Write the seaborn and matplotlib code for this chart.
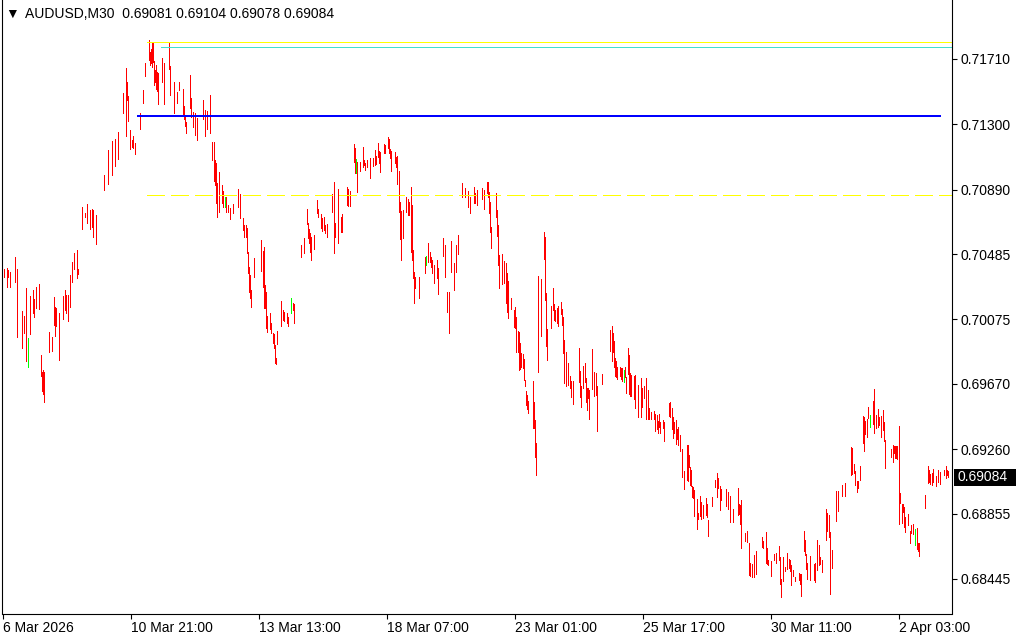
import matplotlib
matplotlib.use("Agg")
import matplotlib.pyplot as plt
import matplotlib.transforms as mtransforms
from matplotlib.patches import Rectangle
import pandas as pd
import seaborn as sns

# ---------------- data ----------------
symbol_title = "AUDUSD,M30"
title_ohlc = ["0.69081", "0.69104", "0.69078", "0.69084"]
last_close = 0.69084

bar_pos = [
    4, 7, 8, 10, 15, 17, 22, 24, 26, 28,
    30, 33, 34, 36, 39, 41, 42, 43, 44, 49,
    52, 54, 55, 56, 59, 63, 65, 66, 68, 70,
    72, 74, 77, 78, 82, 85, 87, 90, 92, 93,
    96, 104, 108, 112, 115, 118, 123, 126, 127, 128,
    130, 132, 133, 135, 140, 143, 145, 149, 150, 151,
    152, 153, 154, 155, 156, 157, 158, 162, 164, 169,
    170, 174, 177, 179, 183, 184, 185, 186, 190, 191,
    193, 195, 197, 203, 205, 207, 210, 212, 214, 215,
    216, 217, 219, 222, 223, 225, 226, 228, 230, 233,
    238, 240, 243, 244, 246, 247, 248, 249, 250, 251,
    254, 261, 263, 264, 265, 266, 267, 270, 271, 273,
    274, 275, 276, 277, 281, 283, 284, 287, 288, 291,
    293, 294, 301, 304, 307, 308, 309, 310, 311, 314,
    317, 318, 321, 322, 324, 325, 327, 332, 334, 335,
    338, 341, 342, 347, 348, 350, 354, 355, 356, 357,
    360, 363, 364, 365, 367, 370, 373, 375, 376, 378,
    379, 380, 384, 385, 388, 389, 390, 391, 395, 396,
    397, 399, 400, 401, 403, 406, 408, 409, 411, 412,
    413, 414, 415, 419, 425, 426, 428, 430, 431, 432,
    434, 437, 438, 443, 445, 447, 449, 451, 454, 456,
    458, 462, 465, 468, 470, 474, 475, 477, 482, 484,
    487, 488, 489, 490, 491, 496, 497, 498, 499, 502,
    504, 506, 507, 508, 511, 514, 515, 516, 518, 519,
    520, 521, 523, 524, 525, 526, 527, 528, 533, 534,
    535, 536, 538, 541, 544, 545, 546, 547, 551, 553,
    554, 555, 557, 558, 561, 562, 563, 564, 566, 568,
    570, 571, 573, 579, 580, 581, 583, 585, 586, 587,
    588, 589, 592, 594, 596, 597, 602, 610, 612, 613,
    614, 615, 616, 617, 620, 621, 622, 624, 625, 626,
    628, 629, 630, 631, 634, 635, 638, 641, 642, 644,
    646, 648, 649, 651, 654, 655, 657, 658, 659, 660,
    663, 664, 669, 670, 672, 673, 674, 676, 677, 678,
    680, 682, 684, 687, 688, 689, 690, 691, 692, 693,
    694, 697, 698, 700, 701, 703, 706, 707, 708, 712,
    715, 717, 718, 720, 721, 726, 728, 730, 733, 738,
    739, 740, 741, 745, 747, 749, 750, 752, 754, 756,
    762, 763, 766, 767, 768, 771, 774, 776, 779, 780,
    781, 783, 785, 787, 789, 790, 791, 793, 795, 799,
    800, 801, 804, 805, 806, 807, 810, 814, 815, 817,
    819, 820, 822, 826, 827, 829, 830, 832, 836, 838,
    842, 845, 851, 852, 854, 855, 857, 858, 860, 863,
    864, 865, 867, 868, 870, 873, 874, 876, 878, 879,
    881, 883, 884, 885, 891, 893, 894, 895, 896, 897,
    899, 900, 902, 903, 904, 905, 908, 910, 911, 913,
    915, 917, 918, 919, 925, 928, 929, 930, 932, 933,
    936, 938, 940, 944, 946, 947, 948,
]

bar_high = [
    0.70391, 0.70398, 0.70385, 0.70372, 0.70467, 0.70391, 0.70127, 0.70096, 0.70272, 0.69958,
    0.70222, 0.70259, 0.70203, 0.70278, 0.70297, 0.69851, 0.69744, 0.69757, 0.69744, 0.69996,
    0.69964, 0.70215, 0.70153, 0.70146, 0.70115, 0.70222, 0.70259, 0.70228, 0.70228, 0.70354,
    0.70435, 0.70492, 0.70511, 0.70391, 0.70781, 0.70743, 0.70799, 0.70762, 0.70768, 0.70762,
    0.70730, 0.70982, 0.71139, 0.71195, 0.71208, 0.71252, 0.71497, 0.71654, 0.71566, 0.71478,
    0.71264, 0.71201, 0.71226, 0.71183, 0.71371, 0.71515, 0.71685, 0.71829, 0.71754, 0.71773,
    0.71811, 0.71811, 0.71697, 0.71641, 0.71672, 0.71628, 0.71622, 0.71716, 0.71685, 0.71811,
    0.71666, 0.71566, 0.71503, 0.71566, 0.71522, 0.71415, 0.71358, 0.71314, 0.71610, 0.71465,
    0.71377, 0.71371, 0.71340, 0.71453, 0.71390, 0.71383, 0.71484, 0.71189, 0.71189, 0.71076,
    0.71057, 0.70931, 0.71000, 0.70919, 0.70881, 0.70843, 0.70843, 0.70793, 0.70774, 0.70799,
    0.70894, 0.70862, 0.70712, 0.70668, 0.70668, 0.70649, 0.70498, 0.70404, 0.70354, 0.70259,
    0.70460, 0.70573, 0.70504, 0.70529, 0.70291, 0.70247, 0.70096, 0.70115, 0.70052, 0.69989,
    0.69983, 0.69914, 0.69832, 0.70002, 0.70190, 0.70134, 0.70121, 0.70115, 0.70090, 0.70209,
    0.70178, 0.70171, 0.70542, 0.70586, 0.70768, 0.70680, 0.70642, 0.70617, 0.70592, 0.70605,
    0.70824, 0.70768, 0.70737, 0.70712, 0.70718, 0.70668, 0.70674, 0.70862, 0.70937, 0.70680,
    0.70894, 0.70718, 0.70737, 0.70906, 0.70894, 0.70881, 0.71176, 0.71151, 0.71082, 0.71063,
    0.71063, 0.71157, 0.71076, 0.71057, 0.71076, 0.71088, 0.71088, 0.71139, 0.71101, 0.71183,
    0.71132, 0.71126, 0.71176, 0.71170, 0.71220, 0.71208, 0.71145, 0.71132, 0.71126, 0.71095,
    0.71101, 0.71007, 0.70812, 0.70755, 0.70762, 0.70843, 0.70831, 0.70812, 0.70906, 0.70793,
    0.70511, 0.70372, 0.70341, 0.70341, 0.70467, 0.70473, 0.70554, 0.70498, 0.70467, 0.70448,
    0.70416, 0.70448, 0.70398, 0.70586, 0.70542, 0.70247, 0.70247, 0.70567, 0.70429, 0.70542,
    0.70605, 0.70931, 0.70900, 0.70881, 0.70843, 0.70906, 0.70868, 0.70887, 0.70900, 0.70887,
    0.70937, 0.70937, 0.70875, 0.70812, 0.70655, 0.70868, 0.70762, 0.70668, 0.70479, 0.70485,
    0.70441, 0.70429, 0.70366, 0.70316, 0.70209, 0.70134, 0.70153, 0.70090, 0.70002, 0.69996,
    0.69927, 0.69864, 0.69857, 0.69826, 0.69694, 0.69625, 0.69600, 0.69562, 0.69688, 0.69556,
    0.69443, 0.69299, 0.70347, 0.70328, 0.70624, 0.70592, 0.70241, 0.70014, 0.70159, 0.70272,
    0.70171, 0.70134, 0.70146, 0.70159, 0.70184, 0.70140, 0.70090, 0.69945, 0.69870, 0.69801,
    0.69719, 0.69688, 0.69688, 0.69895, 0.69751, 0.69656, 0.69782, 0.69801, 0.69707, 0.69644,
    0.69644, 0.69631, 0.69889, 0.69744, 0.69738, 0.69656, 0.69732, 0.70008, 0.70033, 0.69989,
    0.69939, 0.69832, 0.69813, 0.69776, 0.69776, 0.69770, 0.69770, 0.69757, 0.69776, 0.69713,
    0.69895, 0.69851, 0.69738, 0.69726, 0.69719, 0.69726, 0.69663, 0.69707, 0.69644, 0.69656,
    0.69707, 0.69631, 0.69518, 0.69493, 0.69499, 0.69481, 0.69474, 0.69437, 0.69481, 0.69430,
    0.69443, 0.69430, 0.69550, 0.69556, 0.69518, 0.69462, 0.69430, 0.69443, 0.69386, 0.69399,
    0.69349, 0.69261, 0.69123, 0.69286, 0.69286, 0.69223, 0.69148, 0.69129, 0.69028, 0.69022,
    0.69003, 0.68947, 0.68859, 0.68966, 0.68928, 0.68909, 0.68953, 0.68915, 0.68815, 0.68959,
    0.69066, 0.69110, 0.69079, 0.69028, 0.69010, 0.69010, 0.68991, 0.68966, 0.68884, 0.69016,
    0.68915, 0.68909, 0.68941, 0.68733, 0.68746, 0.68671, 0.68545, 0.68539, 0.68595, 0.68620,
    0.68708, 0.68683, 0.68740, 0.68639, 0.68564, 0.68557, 0.68601, 0.68608, 0.68652, 0.68583,
    0.68444, 0.68583, 0.68520, 0.68608, 0.68570, 0.68564, 0.68532, 0.68501, 0.68457, 0.68482,
    0.68476, 0.68476, 0.68746, 0.68689, 0.68601, 0.68545, 0.68589, 0.68539, 0.68545, 0.68689,
    0.68658, 0.68583, 0.68564, 0.68884, 0.68859, 0.68846, 0.68740, 0.68627, 0.68997, 0.68997,
    0.69035, 0.69047, 0.69273, 0.69267, 0.69167, 0.69123, 0.69060, 0.69060, 0.69154, 0.69468,
    0.69462, 0.69437, 0.69449, 0.69525, 0.69474, 0.69562, 0.69638, 0.69474, 0.69512, 0.69462,
    0.69468, 0.69506, 0.69430, 0.69317, 0.69261, 0.69286, 0.69280, 0.69280, 0.69280, 0.69280,
    0.69405, 0.68984, 0.68915, 0.68915, 0.68897, 0.68834, 0.68853, 0.68746, 0.68784, 0.68790,
    0.68758, 0.68765, 0.68671, 0.68671, 0.68972, 0.69154, 0.69129, 0.69104, 0.69110, 0.69135,
    0.69091, 0.69129, 0.69116, 0.69129, 0.69154, 0.69129, 0.69123,
]

bar_low = [
    0.70341, 0.70278, 0.70341, 0.70278, 0.70310, 0.69964, 0.69895, 0.69989, 0.69813, 0.69776,
    0.69983, 0.70115, 0.70090, 0.70146, 0.70140, 0.69719, 0.69625, 0.69606, 0.69556, 0.69870,
    0.69876, 0.70040, 0.69970, 0.70033, 0.69820, 0.70077, 0.70134, 0.70115, 0.70065, 0.70153,
    0.70310, 0.70391, 0.70335, 0.70360, 0.70642, 0.70718, 0.70680, 0.70642, 0.70655, 0.70592,
    0.70548, 0.70887, 0.70925, 0.70982, 0.71038, 0.71082, 0.71371, 0.71226, 0.71453, 0.71321,
    0.71145, 0.71157, 0.71151, 0.71113, 0.71270, 0.71434, 0.71603, 0.71704, 0.71672, 0.71685,
    0.71660, 0.71691, 0.71547, 0.71566, 0.71522, 0.71509, 0.71427, 0.71566, 0.71427, 0.71647,
    0.71484, 0.71371, 0.71434, 0.71515, 0.71365, 0.71333, 0.71289, 0.71245, 0.71402, 0.71346,
    0.71283, 0.71233, 0.71201, 0.71333, 0.71226, 0.71270, 0.71245, 0.71076, 0.70944, 0.70919,
    0.70806, 0.70718, 0.70749, 0.70806, 0.70781, 0.70781, 0.70749, 0.70749, 0.70705, 0.70743,
    0.70781, 0.70712, 0.70636, 0.70592, 0.70592, 0.70492, 0.70366, 0.70247, 0.70209, 0.70153,
    0.70341, 0.70379, 0.70278, 0.70146, 0.70146, 0.70021, 0.69996, 0.70014, 0.69989, 0.69927,
    0.69895, 0.69801, 0.69795, 0.69920, 0.70033, 0.70071, 0.70065, 0.70052, 0.70033, 0.70115,
    0.70134, 0.70052, 0.70467, 0.70492, 0.70674, 0.70586, 0.70554, 0.70498, 0.70448, 0.70517,
    0.70743, 0.70718, 0.70649, 0.70630, 0.70636, 0.70617, 0.70592, 0.70749, 0.70492, 0.70592,
    0.70554, 0.70624, 0.70624, 0.70793, 0.70787, 0.70787, 0.71063, 0.70994, 0.70994, 0.70875,
    0.71007, 0.71032, 0.71044, 0.71013, 0.71032, 0.70963, 0.71038, 0.71044, 0.71051, 0.71095,
    0.71057, 0.71000, 0.71120, 0.71120, 0.71151, 0.71120, 0.71088, 0.71007, 0.71057, 0.71032,
    0.70925, 0.70749, 0.70580, 0.70448, 0.70586, 0.70749, 0.70730, 0.70730, 0.70498, 0.70448,
    0.70335, 0.70178, 0.70272, 0.70209, 0.70366, 0.70416, 0.70435, 0.70435, 0.70404, 0.70366,
    0.70303, 0.70335, 0.70234, 0.70473, 0.70341, 0.70121, 0.69989, 0.70372, 0.70259, 0.70372,
    0.70485, 0.70843, 0.70843, 0.70781, 0.70743, 0.70806, 0.70806, 0.70793, 0.70831, 0.70768,
    0.70868, 0.70843, 0.70743, 0.70624, 0.70523, 0.70718, 0.70598, 0.70416, 0.70272, 0.70297,
    0.70303, 0.70178, 0.70121, 0.70083, 0.70140, 0.70027, 0.70021, 0.69870, 0.69870, 0.69757,
    0.69763, 0.69776, 0.69769, 0.69694, 0.69656, 0.69537, 0.69512, 0.69487, 0.69393, 0.69393,
    0.69211, 0.69098, 0.69744, 0.69970, 0.70454, 0.70197, 0.69908, 0.69820, 0.70021, 0.70134,
    0.70071, 0.70065, 0.70052, 0.70033, 0.70109, 0.70040, 0.69864, 0.69675, 0.69656, 0.69663,
    0.69644, 0.69587, 0.69543, 0.69682, 0.69587, 0.69525, 0.69644, 0.69682, 0.69556, 0.69506,
    0.69581, 0.69449, 0.69638, 0.69594, 0.69600, 0.69374, 0.69669, 0.69876, 0.69813, 0.69870,
    0.69776, 0.69719, 0.69713, 0.69700, 0.69719, 0.69700, 0.69688, 0.69682, 0.69713, 0.69612,
    0.69732, 0.69606, 0.69594, 0.69594, 0.69575, 0.69518, 0.69462, 0.69462, 0.69525, 0.69581,
    0.69449, 0.69449, 0.69449, 0.69449, 0.69449, 0.69374, 0.69386, 0.69361, 0.69399, 0.69361,
    0.69393, 0.69311, 0.69468, 0.69462, 0.69386, 0.69330, 0.69361, 0.69292, 0.69324, 0.69286,
    0.69248, 0.69085, 0.69010, 0.69066, 0.69060, 0.69148, 0.69035, 0.69028, 0.68959, 0.68953,
    0.68840, 0.68758, 0.68821, 0.68840, 0.68821, 0.68828, 0.68846, 0.68834, 0.68714, 0.68903,
    0.69022, 0.68959, 0.69016, 0.68878, 0.68941, 0.68903, 0.68884, 0.68802, 0.68802, 0.68846,
    0.68853, 0.68790, 0.68639, 0.68683, 0.68677, 0.68470, 0.68463, 0.68457, 0.68457, 0.68476,
    0.68645, 0.68639, 0.68545, 0.68539, 0.68532, 0.68463, 0.68564, 0.68545, 0.68564, 0.68413,
    0.68331, 0.68432, 0.68495, 0.68507, 0.68514, 0.68495, 0.68407, 0.68463, 0.68432, 0.68438,
    0.68413, 0.68338, 0.68620, 0.68595, 0.68507, 0.68444, 0.68438, 0.68438, 0.68426, 0.68501,
    0.68532, 0.68539, 0.68488, 0.68689, 0.68746, 0.68708, 0.68350, 0.68514, 0.68809, 0.68872,
    0.68966, 0.68966, 0.69098, 0.69104, 0.69110, 0.69035, 0.68991, 0.69016, 0.69066, 0.69299,
    0.69248, 0.69355, 0.69336, 0.69455, 0.69399, 0.69418, 0.69361, 0.69393, 0.69399, 0.69411,
    0.69336, 0.69380, 0.69311, 0.69141, 0.69211, 0.69179, 0.69236, 0.69204, 0.69204, 0.69198,
    0.68790, 0.68922, 0.68796, 0.68865, 0.68771, 0.68740, 0.68784, 0.68671, 0.68733, 0.68727,
    0.68658, 0.68633, 0.68620, 0.68589, 0.68890, 0.69047, 0.69054, 0.69041, 0.69035, 0.69054,
    0.69028, 0.69054, 0.69041, 0.69098, 0.69079, 0.69098, 0.69085,
]

bull_bars = [28, 225, 291, 356, 426, 624, 870, 915]

# horizontal objects (price level, start bar, end bar)
yellow_level, yellow_start = 0.71814, 147
aqua_level, aqua_start = 0.71785, 161
blue_level, blue_start, blue_end = 0.71352, 137, 941
dash_level, dash_start = 0.70856, 147

y_ticks = [0.71710, 0.71300, 0.70890, 0.70485, 0.70075, 0.69670, 0.69260, 0.68855, 0.68445]
x_tick_pos = [3, 131, 259, 387, 515, 643, 771, 899]
x_tick_labels = ["6 Mar 2026", "10 Mar 21:00", "13 Mar 13:00", "18 Mar 07:00",
                 "23 Mar 01:00", "25 Mar 17:00", "30 Mar 11:00", "2 Apr 03:00"]

assert len(bar_pos) == len(bar_high) == len(bar_low)

# ---------------- build long-form table ----------------
rows = []
for b, h, l in zip(bar_pos, bar_high, bar_low):
    d = "up" if b in bull_bars else "down"
    rows.append((b, h, d, b))
    rows.append((b, l, d, b))
df = pd.DataFrame(rows, columns=["bar", "price", "dir", "unit"])

# ---------------- figure ----------------
sns.set_style("white")
plt.rcParams["font.family"] = ["Liberation Sans", "DejaVu Sans"]

W, H = 1024, 640
fig = plt.figure(figsize=(W / 100, H / 100), dpi=100)
fig.patch.set_facecolor("white")
ax = fig.add_axes([2 / W, 26.5 / H, 950 / W, 613.5 / H])
ax.set_facecolor("white")

sns.lineplot(data=df, x="bar", y="price", hue="dir", units="unit", estimator=None,
             palette={"down": "#ff0000", "up": "#00ff00"}, linewidth=0.55,
             legend=False, sort=False, ax=ax, antialiased=False,
             solid_capstyle="butt")

ax.hlines(yellow_level, yellow_start, 952, colors="#ffff00", lw=0.55, antialiased=False)
ax.hlines(aqua_level, aqua_start, 952, colors="#40e0d0", lw=0.55, antialiased=False)
ax.hlines(dash_level, dash_start, 952, colors="#ffff00", lw=0.72,
          linestyles=(0, (18, 6)), antialiased=False)
ax.hlines(blue_level, blue_start, blue_end, colors="#0000ff", lw=1.44, antialiased=False)

ax.set_xlim(2, 952)
ax.set_ylim(0.682277, 0.720805)

ax.set_xlabel("")
ax.set_ylabel("")

ax.yaxis.tick_right()
ax.set_yticks(y_ticks)
ax.set_yticklabels([f"{v:.5f}" for v in y_ticks])
ax.tick_params(axis="y", direction="out", length=3.6, width=0.8, pad=2.5,
               labelsize=10, colors="black", right=True, left=False)

ax.set_xticks(x_tick_pos)
ax.set_xticklabels(x_tick_labels, ha="left")
ax.tick_params(axis="x", direction="out", length=3.6, width=0.8, pad=1.5,
               labelsize=10, colors="black", bottom=True, top=False)

for side in ["left", "right", "bottom"]:
    ax.spines[side].set_visible(True)
    ax.spines[side].set_color("black")
    ax.spines[side].set_linewidth(0.8)
ax.spines["top"].set_visible(False)

# current price box
trans = mtransforms.blended_transform_factory(ax.transAxes, ax.transData)
ax.add_patch(Rectangle((1.0021, last_close - 0.00053), 0.0653, 0.00106,
                       transform=trans, facecolor="black", edgecolor="none",
                       clip_on=False, zorder=5))
ax.text(1.0063, last_close, f"{last_close:.5f}", transform=trans, color="white",
        fontsize=10, va="center", ha="left", clip_on=False, zorder=6)

# header
fig.text(5 / W, 1 - 14 / H, "\u25BC", fontsize=10, va="center", ha="left", color="black")
fig.text(25 / W, 1 - 14 / H, symbol_title + "  " + " ".join(title_ohlc),
         fontsize=10, va="center", ha="left", color="black")

fig.savefig("out.png", dpi=100, facecolor="white")
